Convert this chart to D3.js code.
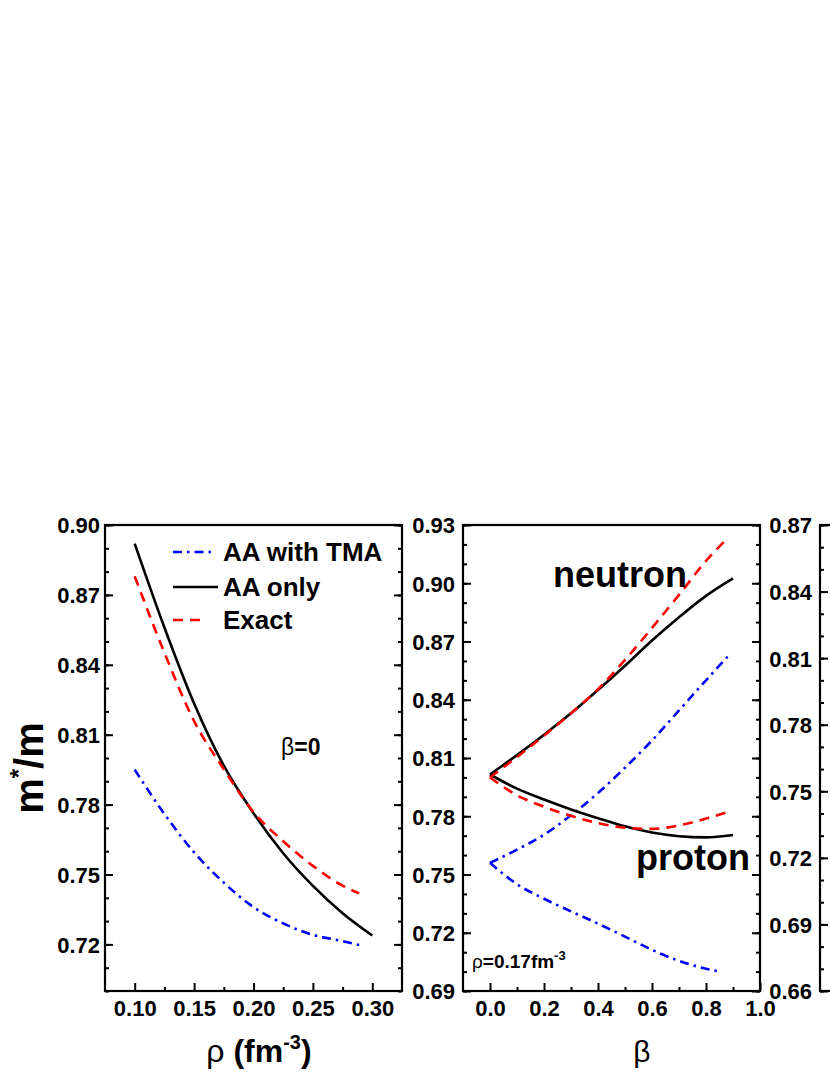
<!DOCTYPE html>
<html><head><meta charset="utf-8">
<script src="https://cdn.jsdelivr.net/npm/d3@7/dist/d3.min.js"></script>
<style>
html,body{margin:0;padding:0;background:#fff;}
svg{display:block;}
text{font-family:"Liberation Sans",Arial,sans-serif;font-weight:bold;fill:#000;}
</style></head>
<body>
<svg id="chart" width="830" height="1075"></svg>
<script>
// ---------- DATA ----------
// Panel 1: m*/m vs rho at beta = 0
const rhoAA = [0.100, 0.125, 0.150, 0.175, 0.200, 0.225, 0.250, 0.275, 0.300];
const aaOnlyRho = [0.892, 0.856, 0.8234, 0.7967, 0.7763, 0.7591, 0.7451, 0.7334, 0.7238];
const rhoEx = [0.100, 0.125, 0.150, 0.175, 0.200, 0.225, 0.250, 0.275, 0.289];
const exactRho = [0.878, 0.8452, 0.8158, 0.7952, 0.7768, 0.7643, 0.7537, 0.7452, 0.7419];
const tmaRho = [0.795, 0.776, 0.7595, 0.7465, 0.736, 0.729, 0.7241, 0.7214, 0.7197];

// Panel 2: m*/m vs beta at rho = 0.17 fm^-3
const betaAA = [0, 0.1, 0.2, 0.3, 0.4, 0.5, 0.6, 0.7, 0.8, 0.9];
const aaNeutron = [0.8015, 0.8115, 0.822, 0.833, 0.845, 0.8575, 0.8705, 0.8825, 0.8935, 0.9025];
const aaProton  = [0.8015, 0.7942, 0.7886, 0.7835, 0.779, 0.7748, 0.7716, 0.7697, 0.7691, 0.7703];
const betaEx = [0, 0.1, 0.2, 0.3, 0.4, 0.5, 0.6, 0.7, 0.8, 0.875];
const exNeutron = [0.800, 0.8105, 0.8215, 0.833, 0.8455, 0.8605, 0.877, 0.894, 0.9115, 0.9225];
const exProton  = [0.800, 0.7908, 0.7849, 0.7802, 0.7765, 0.7741, 0.7735, 0.7753, 0.7788, 0.782];
const betaTmaN = [0, 0.1, 0.2, 0.3, 0.4, 0.5, 0.6, 0.7, 0.8, 0.885];
const tmaNeutron = [0.756, 0.7628, 0.7705, 0.7805, 0.792, 0.805, 0.819, 0.8345, 0.850, 0.863];
const betaTmaP = [0, 0.1, 0.2, 0.3, 0.4, 0.5, 0.6, 0.7, 0.8, 0.84];
const tmaProton = [0.756, 0.745, 0.7375, 0.731, 0.7247, 0.718, 0.7112, 0.7055, 0.7015, 0.7003];

// Tick values
const p1YTicks = [0.72, 0.75, 0.78, 0.81, 0.84, 0.87, 0.90];
const p1XTicks = [0.10, 0.15, 0.20, 0.25, 0.30];
const p2YTicks = [0.69, 0.72, 0.75, 0.78, 0.81, 0.84, 0.87, 0.90, 0.93];
const p2XTicks = [0.0, 0.2, 0.4, 0.6, 0.8, 1.0];
const p3YTicks = [0.66, 0.69, 0.72, 0.75, 0.78, 0.81, 0.84, 0.87];

const legendLabels = ["AA with TMA", "AA only", "Exact"];

// ---------- STYLE ----------
const BLUE = "#0000ff", RED = "#ff0000", BLACK = "#000000";
const styles = {
  tma:   {stroke: BLUE,  dash: "9,5,2.5,5", width: 2.6},
  aa:    {stroke: BLACK, dash: null,       width: 2.6},
  exact: {stroke: RED,   dash: "10,7",     width: 2.6}
};

const svg = d3.select("#chart");
const TOP = 525, BOT = 991;

function range(a, b, step) {
  const out = [];
  const n = Math.round((b - a) / step);
  for (let i = 0; i <= n; i++) out.push(+(a + i * step).toFixed(4));
  return out;
}

function makePanel(o) {
  const x = d3.scaleLinear().domain(o.xDom).range([o.left, o.right]);
  const y = d3.scaleLinear().domain(o.yDom).range([BOT, TOP]);
  const g = svg.append("g");
  const yMinor = range(o.yDom[0], o.yDom[1], 0.01);
  g.append("g").attr("transform", `translate(${o.left},0)`)
    .call(d3.axisLeft(y).tickValues(yMinor).tickSize(-4).tickFormat(""))
    .call(a => a.select(".domain").remove());
  g.append("g").attr("transform", `translate(${o.left},0)`)
    .call(d3.axisLeft(y).tickValues(o.yTicks).tickSize(-8).tickPadding(o.yPad).tickFormat(d3.format(".2f")))
    .call(a => a.select(".domain").remove())
    .call(a => a.selectAll("text").style("font-size", "22px").attr("dy", "0.36em"));
  g.append("g").attr("transform", `translate(${o.right},0)`)
    .call(d3.axisRight(y).tickValues(yMinor).tickSize(-4).tickFormat(""))
    .call(a => a.select(".domain").remove());
  g.append("g").attr("transform", `translate(${o.right},0)`)
    .call(d3.axisRight(y).tickValues(o.yTicks).tickSize(-8).tickFormat(""))
    .call(a => a.select(".domain").remove());
  if (o.xTicks) {
    g.append("g").attr("transform", `translate(0,${BOT})`)
      .call(d3.axisBottom(x).tickValues(o.xMinor).tickSize(-4).tickFormat(""))
      .call(a => a.select(".domain").remove());
    g.append("g").attr("transform", `translate(0,${BOT})`)
      .call(d3.axisBottom(x).tickValues(o.xTicks).tickSize(-8).tickPadding(9).tickFormat(d3.format(o.xFmt)))
      .call(a => a.select(".domain").remove())
      .call(a => a.selectAll("text").style("font-size", "22px").attr("dy", "0.71em"));
  }
  g.selectAll(".tick line").attr("stroke", "#000").attr("stroke-width", 2);
  g.append("rect").attr("x", o.left).attr("y", TOP)
    .attr("width", o.right - o.left).attr("height", BOT - TOP)
    .attr("fill", "none").attr("stroke", "#000").attr("stroke-width", 2.2);
  return {x, y, g};
}

function drawLine(p, xs, ys, st) {
  const line = d3.line().x(d => p.x(d[0])).y(d => p.y(d[1])).curve(d3.curveMonotoneX);
  p.g.append("path").datum(xs.map((v, i) => [v, ys[i]]))
    .attr("d", line).attr("fill", "none")
    .attr("stroke", st.stroke).attr("stroke-width", st.width)
    .attr("stroke-dasharray", st.dash);
}

// ---------- PANEL 1 ----------
const p1 = makePanel({left: 105, right: 402, xDom: [0.075, 0.325], yDom: [0.70, 0.90],
  yTicks: p1YTicks, yPad: 5, xTicks: p1XTicks, xMinor: [0.125, 0.175, 0.225, 0.275], xFmt: ".2f"});
drawLine(p1, rhoEx, tmaRho, styles.tma);
drawLine(p1, rhoAA, aaOnlyRho, styles.aa);
drawLine(p1, rhoEx, exactRho, styles.exact);

// legend
const legKeys = ["tma", "aa", "exact"];
const legY = [552, 587, 620];
const legEnd = [212, 218, 205];
legKeys.forEach((k, i) => {
  const st = styles[k];
  svg.append("line").attr("x1", 173).attr("x2", legEnd[i]).attr("y1", legY[i]).attr("y2", legY[i])
    .attr("stroke", st.stroke).attr("stroke-width", st.width).attr("stroke-dasharray", st.dash);
  svg.append("text").attr("x", 223).attr("y", legY[i] + 8.5).style("font-size", "26px").text(legendLabels[i]);
});

const t1 = svg.append("text").attr("x", 281).attr("y", 755).style("font-size", "23px");
t1.append("tspan").style("font-weight", "normal").text("β");
t1.append("tspan").text("=0");

// ---------- PANEL 2 ----------
const p2 = makePanel({left: 463, right: 760, xDom: [-0.1, 1.0], yDom: [0.69, 0.93],
  yTicks: p2YTicks, yPad: 8, xTicks: p2XTicks, xMinor: [0.1, 0.3, 0.5, 0.7, 0.9], xFmt: ".1f"});
drawLine(p2, betaTmaN, tmaNeutron, styles.tma);
drawLine(p2, betaTmaP, tmaProton, styles.tma);
drawLine(p2, betaAA, aaNeutron, styles.aa);
drawLine(p2, betaAA, aaProton, styles.aa);
drawLine(p2, betaEx, exNeutron, styles.exact);
drawLine(p2, betaEx, exProton, styles.exact);

svg.append("text").attr("x", 553).attr("y", 587).style("font-size", "36px").text("neutron");
svg.append("text").attr("x", 636).attr("y", 870).style("font-size", "36px").text("proton");
const t2 = svg.append("text").attr("x", 472).attr("y", 968).style("font-size", "19px");
t2.append("tspan").style("font-weight", "normal").text("ρ");
t2.append("tspan").text("=0.17fm");
t2.append("tspan").attr("dy", -8).style("font-size", "13px").text("-3");

// ---------- PANEL 3 (cut off at the right edge) ----------
makePanel({left: 820, right: 1117, xDom: [-0.1, 1.0], yDom: [0.66, 0.87],
  yTicks: p3YTicks, yPad: 8, xTicks: null});

// ---------- AXIS TITLES ----------
const yt = svg.append("text").attr("transform", "translate(43,768) rotate(-90)")
  .attr("text-anchor", "middle").style("font-size", "40px");
yt.append("tspan").text("m");
yt.append("tspan").attr("dy", -16).style("font-size", "24px").text("*");
yt.append("tspan").attr("dy", 16).text("/m");

const xt1 = svg.append("text").attr("x", 259).attr("y", 1062).attr("text-anchor", "middle").style("font-size", "32px");
xt1.append("tspan").style("font-weight", "normal").text("ρ");
xt1.append("tspan").text(" (fm");
xt1.append("tspan").attr("dy", -13).style("font-size", "20px").text("-3");
xt1.append("tspan").attr("dy", 13).text(")");

svg.append("text").attr("x", 642).attr("y", 1062).attr("text-anchor", "middle")
  .style("font-size", "30px").style("font-weight", "normal").text("β");
</script>
</body></html>
